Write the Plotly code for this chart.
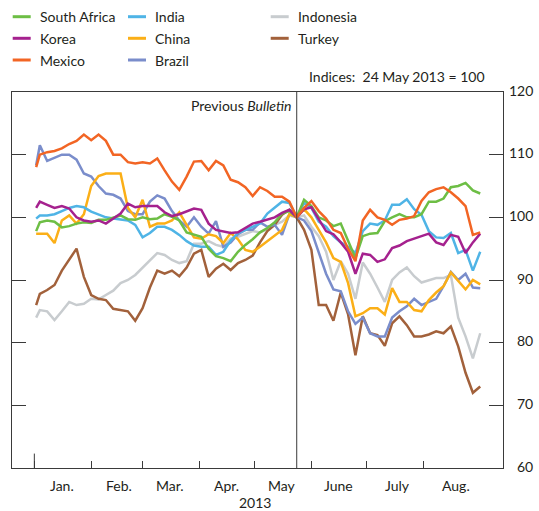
import pandas as pd
import plotly.graph_objects as go

# sample dates: 2 Jan, then every 4 days (24 May 2013 = 100)
dates = [pd.Timestamp("2013-01-02")] + list(pd.date_range("2013-01-04", "2013-09-01", freq="4D"))

south_africa = [97.8,
    99.2, 99.5, 99.3, 98.4, 98.6, 99.0, 99.2, 99.1, 99.6, 99.6,
    100.0, 100.3, 99.7, 99.6, 100.0, 99.7, 99.8, 100.5, 100.1, 99.5,
    97.6, 97.3, 96.9, 95.0, 93.8, 93.5, 93.0, 94.5, 95.6, 96.5,
    97.6, 98.3, 99.2, 100.6, 101.0,
    100.0,
    102.8, 101.8, 100.0, 99.5, 98.6, 99.0, 96.1, 93.5, 97.0, 97.4,
    97.5, 99.4, 100.0, 100.5, 100.0, 100.0, 100.5, 102.5, 102.5, 103.0,
    104.8, 105.0, 105.5, 104.3, 103.8]
korea = [101.5,
    102.5, 102.0, 101.5, 101.8, 101.4, 100.0, 99.5, 99.3, 99.5, 99.0,
    99.8, 100.6, 102.2, 101.6, 101.8, 101.8, 101.8, 100.8, 100.2, 100.5,
    101.0, 101.4, 101.2, 99.0, 98.0, 97.7, 97.5, 97.6, 98.3, 99.0,
    99.3, 99.6, 100.0, 100.7, 101.2,
    100.0,
    101.3, 101.6, 99.6, 97.8, 97.3, 96.0, 94.5, 91.0, 94.2, 94.0,
    92.9, 93.3, 95.1, 95.5, 96.2, 96.6, 97.0, 97.4, 96.0, 95.6,
    97.2, 96.9, 94.3, 96.0, 97.4]
mexico = [108.0,
    110.0, 110.4, 110.6, 111.0, 111.7, 112.2, 113.2, 112.3, 113.2, 112.2,
    110.0, 110.0, 108.8, 108.6, 108.8, 108.6, 109.4, 107.5, 105.7, 104.4,
    106.5, 108.9, 109.0, 107.5, 109.0, 108.3, 106.0, 105.6, 104.8, 103.4,
    104.8, 104.2, 103.3, 103.3, 102.5,
    100.0,
    101.5, 102.6, 101.0, 99.8, 98.0, 97.5, 95.0, 93.0, 99.5, 101.2,
    100.0, 99.6, 98.8, 99.6, 99.8, 100.2, 102.6, 104.0, 104.5, 104.8,
    104.0, 103.0, 101.8, 97.2, 97.6]
india = [99.8,
    100.3, 100.3, 100.5, 101.0, 101.5, 101.8, 101.6, 100.9, 100.4, 100.0,
    99.8, 99.6, 99.5, 98.8, 96.8, 97.5, 98.5, 98.5, 98.0, 97.2,
    96.2, 95.5, 95.3, 95.3, 94.0, 94.5, 96.3, 97.5, 98.0, 98.5,
    99.0, 100.6, 101.5, 102.5, 102.3,
    100.0,
    102.3, 101.5, 99.3, 98.5, 97.0, 96.0, 95.3, 94.3, 97.8, 99.0,
    98.8, 99.5, 102.0, 102.0, 102.9, 101.3, 100.4, 97.8, 96.8, 96.7,
    97.5, 94.3, 94.8, 91.5, 94.5]
china = [97.4,
    97.4, 97.4, 95.9, 99.5, 100.3, 99.0, 100.5, 105.0, 106.6, 107.0,
    107.0, 107.0, 101.5, 100.0, 102.8, 98.5, 99.0, 99.0, 99.5, 100.8,
    98.8, 96.8, 96.6, 97.3, 97.0, 95.9, 97.5, 96.5, 94.8, 94.5,
    95.3, 96.2, 97.0, 98.0, 100.5,
    100.0,
    101.3, 100.0, 98.0, 96.0, 93.5, 92.9, 89.5, 84.2, 84.7, 85.5,
    85.5, 84.5, 88.7, 86.5, 86.5, 85.2, 85.0, 86.8, 88.0, 89.0,
    91.2, 89.8, 88.5, 90.0, 89.3]
brazil = [108.3,
    111.5, 109.0, 109.5, 110.0, 110.0, 109.2, 107.0, 106.5, 105.0, 103.8,
    103.6, 103.0, 101.0, 100.5, 100.5, 102.5, 103.5, 103.0, 101.0, 99.5,
    98.5, 100.0, 98.5, 97.4, 99.4, 95.3, 96.0, 97.3, 98.0, 98.0,
    99.2, 98.5, 98.8, 97.2, 100.5,
    100.0,
    99.5, 97.8, 94.5, 91.0, 88.5, 88.2, 85.0, 83.0, 84.0, 81.5,
    81.0, 81.0, 84.0, 85.0, 85.8, 87.0, 86.0, 86.5, 87.0, 89.0,
    91.3, 90.0, 91.0, 88.8, 88.7]
indonesia = [84.0,
    85.2, 85.0, 83.6, 85.0, 86.5, 86.0, 86.2, 87.0, 86.9, 87.6,
    88.3, 89.5, 90.0, 90.8, 92.0, 93.2, 94.3, 94.0, 93.2, 92.7,
    93.0, 95.8, 95.8, 96.2, 95.6, 95.3, 96.6, 96.9, 97.4, 97.8,
    97.6, 98.1, 98.8, 99.3, 100.3,
    100.0,
    100.3, 98.5, 97.0, 94.5, 90.0, 93.0, 91.0, 87.0, 92.8, 91.0,
    88.8, 86.5, 90.0, 91.2, 92.0, 90.6, 89.6, 90.0, 90.3, 90.3,
    90.8, 84.0, 81.0, 77.5, 81.5]
turkey = [86.0,
    87.8, 88.4, 89.2, 91.5, 93.3, 95.0, 90.5, 87.6, 87.0, 86.8,
    85.4, 85.2, 85.0, 83.5, 85.5, 88.8, 91.5, 91.0, 91.5, 90.6,
    92.0, 94.2, 94.8, 90.5, 91.8, 92.6, 91.6, 92.7, 93.2, 93.9,
    96.0, 97.8, 98.8, 100.4, 101.2,
    100.0,
    98.0, 94.8, 86.0, 86.0, 83.5, 88.0, 84.5, 78.0, 84.2, 81.5,
    81.2, 79.5, 83.1, 84.2, 82.8, 81.0, 81.0, 81.3, 81.8, 81.5,
    82.6, 79.4, 75.2, 72.0, 73.0]

month_starts = ["2013-01-01", "2013-02-01", "2013-03-01", "2013-04-01",
                "2013-05-01", "2013-06-01", "2013-07-01", "2013-08-01"]
month_mids = ["2013-01-16", "2013-02-16", "2013-03-16", "2013-04-16",
              "2013-05-16", "2013-06-16", "2013-07-18", "2013-08-19"]
month_labels = ["Jan.", "Feb.", "Mar.", "Apr.", "May", "June", "July", "Aug."]
y_ticks = [60, 70, 80, 90, 100, 110, 120]

FONT = "Lato"
INK = "#231F20"
AXIS = "#3a3a3a"

# plot box in pixels (539 x 511 page)
L, R, T, B = 12, 503, 92, 468
W, H = R - L, B - T

def px(x):
    return (x - L) / W

def py(y):
    return (B - y) / H

# (name, values, colour, legend column, legend row) - drawn in this order
series = [
    ("Indonesia", indonesia, "#C8CCCF", 2, 0),
    ("Turkey", turkey, "#A2613B", 2, 1),
    ("Brazil", brazil, "#7A8DCB", 1, 2),
    ("China", china, "#FBAF17", 1, 1),
    ("India", india, "#4FB4E6", 1, 0),
    ("South Africa", south_africa, "#6DBE45", 0, 0),
    ("Korea", korea, "#A5218E", 0, 1),
    ("Mexico", mexico, "#F26524", 0, 2),
]
legend_cols = [12.7, 128, 270.7]
legend_rows = [16.7, 38.3, 60]

fig = go.Figure()
for name, vals, color, col, row in series:
    fig.add_trace(go.Scatter(
        x=dates, y=vals, mode="lines", name=name,
        line=dict(color=color, width=2.5), showlegend=False,
    ))
    # legend key: short line + label above the plot
    x0 = legend_cols[col]
    y0 = legend_rows[row]
    fig.add_shape(type="line", xref="paper", yref="paper",
                  x0=px(x0), x1=px(x0 + 18), y0=py(y0), y1=py(y0),
                  line=dict(color=color, width=3))
    fig.add_annotation(x=px(x0 + 25), y=py(y0), xref="paper", yref="paper",
                       xanchor="left", yanchor="middle", showarrow=False,
                       text=name, font=dict(family=FONT, size=14, color=INK))

x_range = ["2012-12-19 20:00", "2013-09-13 10:00"]

fig.update_layout(
    width=539, height=511,
    margin=dict(l=L, r=539 - R, t=T, b=511 - B),
    paper_bgcolor="white", plot_bgcolor="white",
    font=dict(family=FONT, size=14, color=INK),
    showlegend=False,
    xaxis=dict(
        type="date", range=x_range,
        tickvals=month_starts, showticklabels=False,
        ticks="inside", ticklen=7, tickwidth=1, tickcolor=AXIS,
        showline=True, linecolor=AXIS, linewidth=1, mirror=True,
        showgrid=False, zeroline=False,
    ),
    yaxis=dict(
        range=[60, 120], tickvals=y_ticks, showticklabels=False,
        ticks="inside", ticklen=14, tickwidth=1, tickcolor=AXIS,
        showline=True, linecolor=AXIS, linewidth=1, mirror="ticks",
        showgrid=False, zeroline=False,
    ),
)

# longer tick marking the start of the year
fig.add_shape(type="line", xref="x", yref="y", x0="2013-01-01", x1="2013-01-01",
              y0=60, y1=62.3, line=dict(color=AXIS, width=1))
# divider at the previous Bulletin
fig.add_shape(type="line", xref="x", yref="paper", x0="2013-05-24", x1="2013-05-24",
              y0=0, y1=1, line=dict(color=AXIS, width=1))

fig.add_annotation(x="2013-05-22", y=117.9, xref="x", yref="y", xanchor="right",
                   yanchor="middle", showarrow=False, text="Previous <i>Bulletin</i>",
                   font=dict(family=FONT, size=14, color=INK))
fig.add_annotation(x=px(487), y=py(77), xref="paper", yref="paper",
                   xanchor="right", yanchor="middle", showarrow=False,
                   text="Indices:  24 May 2013 = 100",
                   font=dict(family=FONT, size=14, color=INK))
fig.add_annotation(x="2013-05-01", y=py(502), xref="x", yref="paper",
                   xanchor="center", yanchor="middle", showarrow=False, text="2013",
                   font=dict(family=FONT, size=14, color=INK))
for d, lab in zip(month_mids, month_labels):
    fig.add_annotation(x=d, y=py(485), xref="x", yref="paper",
                       xanchor="center", yanchor="middle", showarrow=False, text=lab,
                       font=dict(family=FONT, size=14, color=INK))
for v in y_ticks:
    fig.add_annotation(x=1, y=v, xref="paper", yref="y", xanchor="right",
                       yanchor="middle", xshift=32, yshift=2, showarrow=False,
                       text=str(v), font=dict(family=FONT, size=14, color=INK))

# drop the default page margin so the figure sits at the window origin
fig.write_html("out.html", config={"displayModeBar": False},
               post_script="document.body.style.margin='0';")
